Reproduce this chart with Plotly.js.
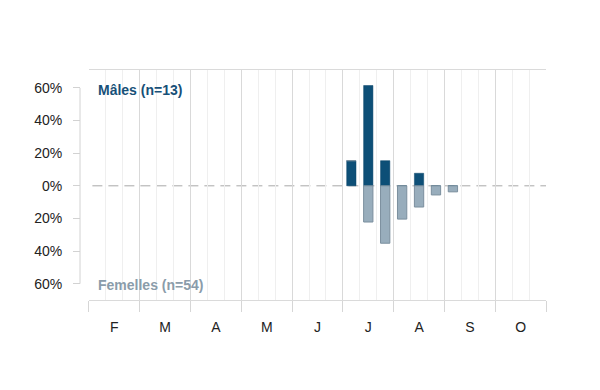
<!DOCTYPE html>
<html>
<head>
<meta charset="utf-8">
<script src="https://cdn.plot.ly/plotly-3.0.1.min.js"></script>
<style>html,body{margin:0;padding:0;background:#fff;}#chart{width:600px;height:390px;}</style>
</head>
<body>
<div id="chart"></div>
<script>
// Month tick labels (Feb .. Oct), each month split in 3 decades
const months = ['F', 'M', 'A', 'M', 'J', 'J', 'A', 'S', 'O'];
// Decades with captures: month index (in months) and decade number (1..3)
const decadeMonth = [5, 5, 5, 6, 6, 6, 7];
const decadeNum   = [1, 2, 3, 1, 2, 3, 1];
const decadeLabels = ['juil. 1', 'juil. 2', 'juil. 3', 'août 1', 'août 2', 'août 3', 'sept. 1'];
// Percentages per decade
const males    = [15.4, 61.5, 15.4, 0, 7.7, 0, 0];      // n = 13
const femelles = [0, 22.2, 35.2, 20.4, 13.0, 5.6, 3.7];  // n = 54
const yTickVals = [-60, -40, -20, 0, 20, 40, 60];
const yTickText = ['60%', '40%', '20%', '0%', '20%', '40%', '60%'];

const xPos = decadeMonth.map((m, i) => m * 3 + decadeNum[i] - 1);
const nDec = months.length * 3;
const boundaries = [];
for (let i = 0; i <= months.length; i++) boundaries.push(i * 3 - 0.5);
const centers = months.map((m, i) => i * 3 + 1);

const font = 'Liberation Sans, Arial, Helvetica, sans-serif';

const traces = [
  {
    type: 'bar', x: xPos, y: males, width: 0.55, name: 'Mâles',
    hovertext: decadeLabels, hoverinfo: 'text+y', textposition: 'none',
    marker: {color: '#0d4f77', line: {color: '#0b4468', width: 0.5}}
  },
  {
    type: 'bar', x: xPos, y: femelles.map(v => -v), width: 0.55, name: 'Femelles',
    hovertext: decadeLabels, hoverinfo: 'text+y', textposition: 'none',
    marker: {color: '#98adbc', line: {color: '#7b8f9e', width: 1}}
  },
  {
    type: 'scatter', x: centers, y: centers.map(() => null), xaxis: 'x2', yaxis: 'y',
    showlegend: false, hoverinfo: 'skip'
  }
];

const layout = {
  width: 600, height: 390,
  margin: {l: 80, r: 54, t: 70, b: 90, pad: 0},
  paper_bgcolor: '#fff', plot_bgcolor: '#fff',
  font: {family: font, size: 14, color: '#222'},
  showlegend: false,
  barmode: 'relative',
  xaxis: {
    domain: [0.0193, 1], range: [-0.5, nDec - 0.5],
    tickmode: 'array', tickvals: boundaries, ticktext: boundaries.map(() => ''),
    showticklabels: false,
    ticks: 'outside', ticklen: 11, tickcolor: '#d6d6d6', tickwidth: 1,
    showgrid: true, gridcolor: '#d9d9d9', gridwidth: 1,
    minor: {tickmode: 'linear', tick0: -0.5, dtick: 1, showgrid: true, gridcolor: '#efefef', gridwidth: 1, ticks: ''},
    showline: true, linecolor: '#dadada', linewidth: 1, mirror: true,
    zeroline: false, fixedrange: true
  },
  xaxis2: {
    overlaying: 'x', anchor: 'y', side: 'bottom', matches: 'x',
    range: [-0.5, nDec - 0.5],
    tickmode: 'array', tickvals: centers, ticktext: months,
    ticks: '', showgrid: false, zeroline: false, showline: false,
    tickfont: {family: font, size: 14, color: '#222'},
    ticklabelstandoff: 17
  },
  yaxis: {
    anchor: 'free', position: 0, range: [-70, 71],
    tickmode: 'array', tickvals: yTickVals, ticktext: yTickText,
    ticks: 'outside', ticklen: 7, tickcolor: '#d2d2d2', tickwidth: 1,
    showgrid: false, zeroline: false, showline: false,
    tickfont: {family: font, size: 14, color: '#222'},
    ticklabelstandoff: 8, fixedrange: true
  },
  shapes: [
    {type: 'line', xref: 'paper', yref: 'y', x0: 0, x1: 0, y0: -60, y1: 60,
     line: {color: '#d2d2d2', width: 1}},
    {type: 'line', xref: 'x', yref: 'y', x0: -0.3, x1: nDec - 0.5, y0: 0, y1: 0,
     layer: 'below', line: {color: '#a8a8a8', width: 1, dash: '10px,6px'}}
  ],
  annotations: [
    {text: '<b>Mâles (n=13)</b>', xref: 'x', yref: 'y', x: -0.5, y: 59,
     xanchor: 'left', yanchor: 'middle', xshift: 7, showarrow: false,
     font: {family: font, size: 14, color: '#175078'}},
    {text: '<b>Femelles (n=54)</b>', xref: 'x', yref: 'y', x: -0.5, y: -61,
     xanchor: 'left', yanchor: 'middle', xshift: 7, showarrow: false,
     font: {family: font, size: 14, color: '#8a9caa'}}
  ]
};

Plotly.newPlot('chart', traces, layout, {displayModeBar: false, staticPlot: true});
</script>
</body>
</html>
